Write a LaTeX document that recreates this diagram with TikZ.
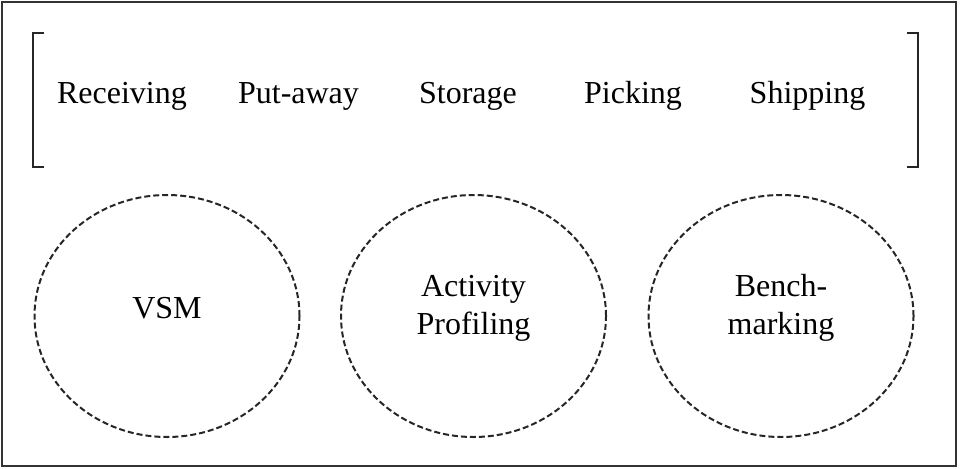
\documentclass[tikz,border=0pt]{standalone}
\usepackage{fontspec}
\setmainfont{Liberation Serif}
\usetikzlibrary{shapes.geometric}

\tikzset{
  frameline/.style={draw=black!80, line width=2pt},
  bracketline/.style={draw=black!85, line width=2.5pt},
  stagetext/.style={anchor=base, inner sep=0pt, font=\fontsize{32}{38}\selectfont},
  toolcircle/.style={ellipse, draw=black!85, line width=2pt,
    dash pattern=on 6pt off 3pt, minimum width=265pt, minimum height=242pt, inner sep=0pt},
  tooltext/.style={align=center, inner sep=0pt, yshift=8pt,
    font=\fontsize{32}{38}\selectfont}
}

\begin{document}
\begin{tikzpicture}[x=1pt, y=-1pt]
  \useasboundingbox (0,0) rectangle (965,468);

  % outer frame
  \draw[frameline] (2,2) rectangle (956,466);

  % square brackets around the process stages
  \draw[bracketline] (44,33) -- (33,33) -- (33,167) -- (44,167);
  \draw[bracketline] (907,33) -- (918,33) -- (918,167) -- (907,167);

  % warehouse process stages
  \node[stagetext] (recv)  at (122,103)   {Receiving};
  \node[stagetext] (put)   at (298.5,103) {Put-away};
  \node[stagetext] (store) at (468,103)   {Storage};
  \node[stagetext] (pick)  at (633,103)   {Picking};
  \node[stagetext] (ship)  at (807.5,103) {Shipping};

  % analysis tools
  \node[toolcircle, label={[tooltext, name=vsmtext]center:VSM}] (vsm) at (167,316) {};
  \node[toolcircle, label={[tooltext, name=actext]center:Activity\\Profiling}] (ap) at (473.5,316) {};
  \node[toolcircle, label={[tooltext, name=bmtext]center:Bench-\\marking}] (bm) at (781,316) {};
\end{tikzpicture}
\end{document}
